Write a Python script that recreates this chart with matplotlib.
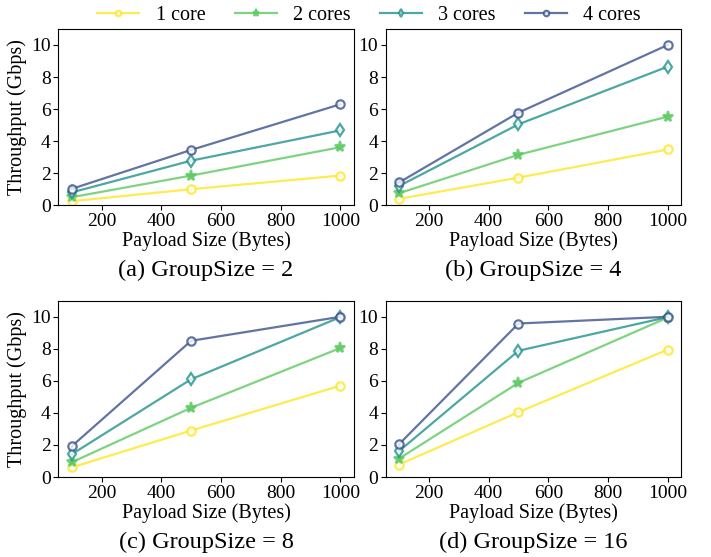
import numpy as np
import matplotlib.pyplot as plt

plt.rcParams['font.family'] = ['Liberation Serif', 'DejaVu Serif']

payload = [100, 500, 1000]
series_names = ['1 core', '2 cores', '3 cores', '4 cores']
panel_titles = ['(a) GroupSize = 2', '(b) GroupSize = 4',
                '(c) GroupSize = 8', '(d) GroupSize = 16']

# throughput (Gbps) per panel, one list per core count
gs2 = [[0.25, 1.0, 1.85], [0.5, 1.85, 3.62], [0.8, 2.78, 4.67], [1.02, 3.45, 6.3]]
gs4 = [[0.4, 1.72, 3.48], [0.75, 3.15, 5.53], [1.2, 5.05, 8.65], [1.42, 5.78, 10.0]]
gs8 = [[0.6, 2.9, 5.7], [0.92, 4.32, 8.05], [1.42, 6.1, 9.98], [1.92, 8.5, 10.0]]
gs16 = [[0.78, 4.05, 7.95], [1.15, 5.88, 9.95], [1.62, 7.88, 9.98], [2.05, 9.58, 10.0]]
panels = [gs2, gs4, gs8, gs16]

colors = ['#fde725', '#5ec962', '#21918c', '#3b528b']
markers = ['o', '*', 'd', 'o']
sizes = [6, 8, 6.5, 6]

fig, axes = plt.subplots(2, 2, figsize=(7.11, 5.57), dpi=100)
fig.subplots_adjust(left=0.082, right=0.958, top=0.948, bottom=0.1436,
                    wspace=0.108, hspace=0.542)

for k, ax in enumerate(axes.flat):
    for i, vals in enumerate(panels[k]):
        ax.plot(payload, vals, color=colors[i], marker=markers[i], alpha=0.8,
                lw=1.6, ms=sizes[i], mew=1.6,
                mfc='white' if i != 1 else colors[i], label=series_names[i])
    ax.set_ylim(0, 11)
    ax.set_yticks([0, 2, 4, 6, 8, 10])
    ax.set_xticks([200, 400, 600, 800, 1000])
    ax.tick_params(labelsize=14, pad=2)
    ax.set_xlabel('Payload Size (Bytes)', fontsize=14.5, labelpad=1)
    if k % 2 == 0:
        ax.set_ylabel('Throughput (Gbps)', fontsize=14.5, labelpad=3)
    ax.text(0.5, -0.37, panel_titles[k], transform=ax.transAxes,
            ha='center', va='center', fontsize=17.5)

handles, labels = axes[0, 0].get_legend_handles_labels()
fig.legend(handles, labels, loc='upper center', ncol=4, frameon=False,
           fontsize=14.5, bbox_to_anchor=(0.519, 1.022), markerscale=0.65,
           handlelength=2.1, handletextpad=0.8, columnspacing=1.45)

fig.savefig('out.png', dpi=100)
